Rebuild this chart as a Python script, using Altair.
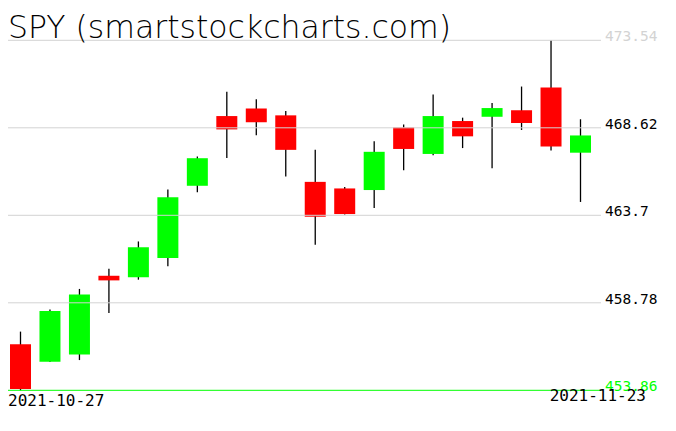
import altair as alt
import pandas as pd

# ---- data ----
dates = ["2021-10-27", "2021-10-28", "2021-10-29", "2021-11-01", "2021-11-02",
         "2021-11-03", "2021-11-04", "2021-11-05", "2021-11-08", "2021-11-09",
         "2021-11-10", "2021-11-11", "2021-11-12", "2021-11-15", "2021-11-16",
         "2021-11-17", "2021-11-18", "2021-11-19", "2021-11-22", "2021-11-23"]
opens = [456.45, 455.46, 455.87, 460.30, 460.22, 461.30, 465.36, 469.28, 469.70, 469.32,
         465.58, 465.21, 465.12, 468.64, 467.15, 469.00, 469.24, 469.61, 470.89, 467.22]
highs = [457.16, 458.40, 459.56, 460.70, 462.23, 465.15, 467.00, 470.65, 470.23, 469.57,
         467.38, 465.29, 467.86, 468.81, 470.49, 469.19, 470.01, 470.94, 473.54, 469.10]
lows = [453.86, 455.45, 455.56, 458.20, 460.08, 460.83, 464.99, 466.92, 468.20, 465.88,
        462.04, 463.75, 464.11, 466.23, 467.07, 467.48, 466.34, 468.50, 467.35, 464.45]
closes = [453.94, 458.32, 459.25, 460.04, 461.90, 464.72, 466.91, 468.53, 468.93, 467.38,
          463.62, 463.77, 467.27, 467.43, 469.28, 468.14, 469.73, 468.89, 467.57, 468.19]
tick_values = [453.86, 458.78, 463.7, 468.62, 473.54]
title_text = "SPY (smartstockcharts.com)"

# ---- tables ----
df = pd.DataFrame({"date": dates, "open": opens, "high": highs, "low": lows, "close": closes})
df["idx"] = range(len(df))
df["dir"] = ["up" if c >= o else "down" for o, c in zip(opens, closes)]

lo, hi = min(lows), max(highs)
ticks = pd.DataFrame({"v": tick_values, "label": [f"{v:g}" for v in tick_values]})
ticks["kind"] = ["min" if v == tick_values[0] else ("max" if v == tick_values[-1] else "mid")
                 for v in tick_values]

date_labels = pd.DataFrame({"d": [dates[0], dates[-1]], "pos": ["first", "last"]})
title_df = pd.DataFrame({"t": [title_text]})

MONO = "DejaVu Sans Mono"

xs = alt.Scale(domain=[0, len(dates) - 1], range=[12.5, 572.5], nice=False, zero=False,
               padding=0)
ys = alt.Scale(domain=[lo, hi], range=[382.3, 32.3], nice=False, zero=False)

base = alt.Chart(df)

wicks = base.mark_rule(color="black", strokeWidth=1.3).encode(
    x=alt.X("idx:Q", scale=xs, axis=None),
    y=alt.Y("low:Q", scale=ys, axis=None),
    y2="high:Q",
)

bodies = base.mark_bar(size=21).encode(
    x=alt.X("idx:Q", scale=xs, axis=None),
    y=alt.Y("open:Q", scale=ys, axis=None),
    y2="close:Q",
    color=alt.Color("dir:N", scale=alt.Scale(domain=["up", "down"], range=["#00ff00", "#ff0000"]),
                    legend=None),
)

grid = alt.Chart(ticks).mark_rule(strokeWidth=1).encode(
    y=alt.Y("v:Q", scale=ys, axis=None),
    x=alt.value(0),
    x2=alt.value(593),
    color=alt.Color("kind:N", scale=alt.Scale(domain=["min", "mid", "max"],
                                              range=["#00ff00", "#d3d3d3", "#d3d3d3"]),
                    legend=None),
)

tick_labels = alt.Chart(ticks).mark_text(
    align="left", baseline="alphabetic", dy=1, font=MONO, fontSize=14.5
).encode(
    y=alt.Y("v:Q", scale=ys, axis=None),
    x=alt.value(597),
    text="label:N",
    color=alt.Color("kind:N", scale=alt.Scale(domain=["min", "mid", "max"],
                                              range=["#00ff00", "#000000", "#d3d3d3"]),
                    legend=None),
)

first_date = alt.Chart(date_labels).transform_filter("datum.pos == 'first'").mark_text(
    align="left", baseline="alphabetic", font=MONO, fontSize=16, color="black"
).encode(x=alt.value(0), y=alt.value(398), text="d:N")

last_date = alt.Chart(date_labels).transform_filter("datum.pos == 'last'").mark_text(
    align="right", baseline="alphabetic", font=MONO, fontSize=16, color="black"
).encode(x=alt.value(638), y=alt.value(393), text="d:N")

title = alt.Chart(title_df).mark_text(
    align="left", baseline="alphabetic", font="DejaVu Sans", fontSize=31.5, fontWeight=200,
    color="black"
).encode(x=alt.value(0), y=alt.value(30), text="t:N")

chart = alt.layer(wicks, bodies, grid, tick_labels, first_date, last_date, title).properties(
    width=655, height=410, padding=0, autosize=alt.AutoSizeParams(type="none"),
    background="white",
).resolve_scale(color="independent").configure_view(stroke=None)

chart.save("out.html", embed_options={"renderer": "svg", "actions": False})
